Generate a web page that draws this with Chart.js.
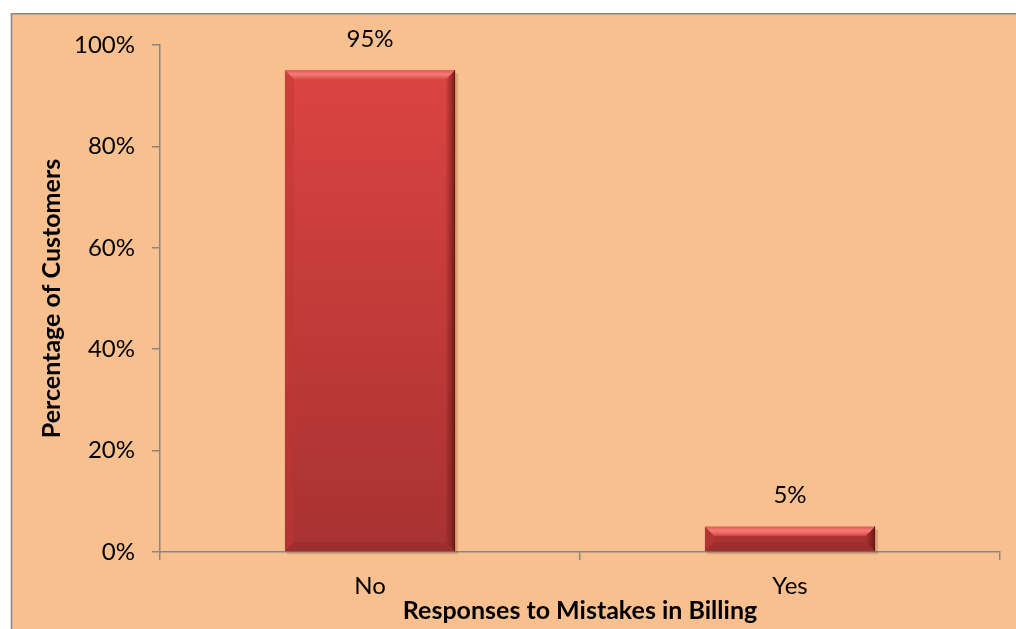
<!DOCTYPE html>
<html>
<head>
<meta charset="utf-8">
<script src="https://cdn.jsdelivr.net/npm/chart.js@4/dist/chart.umd.min.js"></script>
<style>
  html, body { margin: 0; padding: 0; background: #ffffff; }
  #wrap { width: 1016px; height: 629px; position: relative; }
</style>
</head>
<body>
<div id="wrap"><canvas id="chart" width="1016" height="629"></canvas></div>
<script>
const categories = ['No', 'Yes'];
const percentValues = [95, 5];
const yTicks = [0, 20, 40, 60, 80, 100];

const fontFamily = 'Lato, "Open Sans", sans-serif';

// peach panel with grey border behind everything
const panelPlugin = {
  id: 'panel',
  beforeDraw(chart) {
    const ctx = chart.ctx;
    ctx.save();
    ctx.fillStyle = '#ffffff';
    ctx.fillRect(0, 0, chart.width, chart.height);
    ctx.fillStyle = '#f9c08f';
    ctx.fillRect(11, 14, chart.width - 11, chart.height - 14);
    ctx.strokeStyle = '#878787';
    ctx.lineWidth = 1.6;
    ctx.beginPath();
    ctx.moveTo(11.5, chart.height);
    ctx.lineTo(11.5, 13.8);
    ctx.lineTo(chart.width, 13.8);
    ctx.stroke();
    ctx.restore();
  }
};

// shadow + bevel edges on each bar, and the value labels above
const bevelPlugin = {
  id: 'bevel',
  beforeDatasetsDraw(chart) {
    const ctx = chart.ctx;
    chart.getDatasetMeta(0).data.forEach(bar => {
      const p = bar.getProps(['x', 'y', 'base', 'width'], true);
      const l = p.x - p.width / 2;
      ctx.save();
      ctx.fillStyle = 'rgba(120, 70, 40, 0.22)';
      ctx.fillRect(l + 2, p.y + 3, p.width + 1, p.base - p.y);
      ctx.restore();
    });
  },
  afterDatasetsDraw(chart) {
    const ctx = chart.ctx;
    chart.getDatasetMeta(0).data.forEach((bar, i) => {
      const p = bar.getProps(['x', 'y', 'base', 'width'], true);
      const l = p.x - p.width / 2, r = p.x + p.width / 2;
      const t = p.y, b = p.base;
      const h = b - t;
      const bv = Math.min(9, h / 2);
      ctx.save();
      // top bevel
      let g = ctx.createLinearGradient(0, t, 0, t + bv);
      g.addColorStop(0, '#e85a58');
      g.addColorStop(0.45, '#f47b78');
      g.addColorStop(1, '#de4a47');
      ctx.fillStyle = g;
      ctx.beginPath();
      ctx.moveTo(l, t); ctx.lineTo(r, t); ctx.lineTo(r - bv, t + bv); ctx.lineTo(l + bv, t + bv);
      ctx.closePath(); ctx.fill();
      // left bevel
      ctx.fillStyle = 'rgba(190, 55, 52, 0.45)';
      ctx.beginPath();
      ctx.moveTo(l, t); ctx.lineTo(l + bv, t + bv); ctx.lineTo(l + bv, b - bv); ctx.lineTo(l, b);
      ctx.closePath(); ctx.fill();
      // right bevel
      g = ctx.createLinearGradient(r - bv, 0, r, 0);
      g.addColorStop(0, 'rgba(110, 25, 25, 0.1)');
      g.addColorStop(1, 'rgba(90, 15, 15, 0.75)');
      ctx.fillStyle = g;
      ctx.beginPath();
      ctx.moveTo(r, t); ctx.lineTo(r - bv, t + bv); ctx.lineTo(r - bv, b - bv); ctx.lineTo(r, b);
      ctx.closePath(); ctx.fill();
      // bottom bevel
      ctx.fillStyle = 'rgba(100, 25, 25, 0.15)';
      ctx.beginPath();
      ctx.moveTo(l, b); ctx.lineTo(l + bv, b - bv); ctx.lineTo(r - bv, b - bv); ctx.lineTo(r, b);
      ctx.closePath(); ctx.fill();
      // dark outline on right edge
      ctx.strokeStyle = '#5e1515';
      ctx.lineWidth = 1;
      ctx.beginPath();
      ctx.moveTo(r - 0.5, t); ctx.lineTo(r - 0.5, b);
      ctx.stroke();
      ctx.restore();

      // value label
      ctx.save();
      ctx.fillStyle = '#000000';
      ctx.font = '24px ' + fontFamily;
      ctx.textAlign = 'center';
      ctx.textBaseline = 'middle';
      ctx.fillText(percentValues[i] + '%', p.x, t - 31);
      ctx.restore();
    });
  }
};

function barGradient(context) {
  const area = context.chart.chartArea;
  if (!area) return '#d44040';
  const g = context.chart.ctx.createLinearGradient(0, area.top, 0, area.bottom);
  g.addColorStop(0, '#de4542');
  g.addColorStop(1, '#a83232');
  return g;
}

new Chart(document.getElementById('chart'), {
  type: 'bar',
  data: {
    labels: categories,
    datasets: [{
      data: percentValues,
      backgroundColor: barGradient,
      borderWidth: 0,
      categoryPercentage: 1,
      barPercentage: 0.405
    }]
  },
  options: {
    responsive: false,
    animation: false,
    layout: { padding: { left: 0, right: 16, top: 45, bottom: 0 } },
    plugins: {
      legend: { display: false },
      tooltip: { enabled: false }
    },
    scales: {
      x: {
        grid: {
          drawOnChartArea: false,
          color: '#868686',
          lineWidth: 1.5,
          tickLength: 8,
          offset: true
        },
        border: { color: '#868686', width: 1.5 },
        ticks: {
          color: '#000000',
          font: { family: fontFamily, size: 24 },
          padding: 12
        },
        title: {
          display: true,
          text: 'Responses to Mistakes in Billing',
          color: '#000000',
          font: { family: fontFamily, size: 25, weight: 'bold' },
          padding: { top: 0, bottom: 3 }
        },
        afterFit(scale) { scale.height = 77; }
      },
      y: {
        min: 0,
        max: 100,
        grid: {
          drawOnChartArea: false,
          color: '#868686',
          lineWidth: 1.5,
          tickLength: 8
        },
        border: { color: '#868686', width: 1.5 },
        afterBuildTicks(scale) {
          scale.ticks = yTicks.map(v => ({ value: v }));
        },
        ticks: {
          color: '#000000',
          font: { family: fontFamily, size: 24 },
          padding: 17,
          callback: v => v + '%'
        },
        title: {
          display: true,
          text: 'Percentage of Customers',
          color: '#000000',
          font: { family: fontFamily, size: 25, weight: 'bold' },
          padding: { top: 37, bottom: 0 }
        },
        afterFit(scale) { scale.width = 160; }
      }
    }
  },
  plugins: [panelPlugin, bevelPlugin]
});
</script>
</body>
</html>
